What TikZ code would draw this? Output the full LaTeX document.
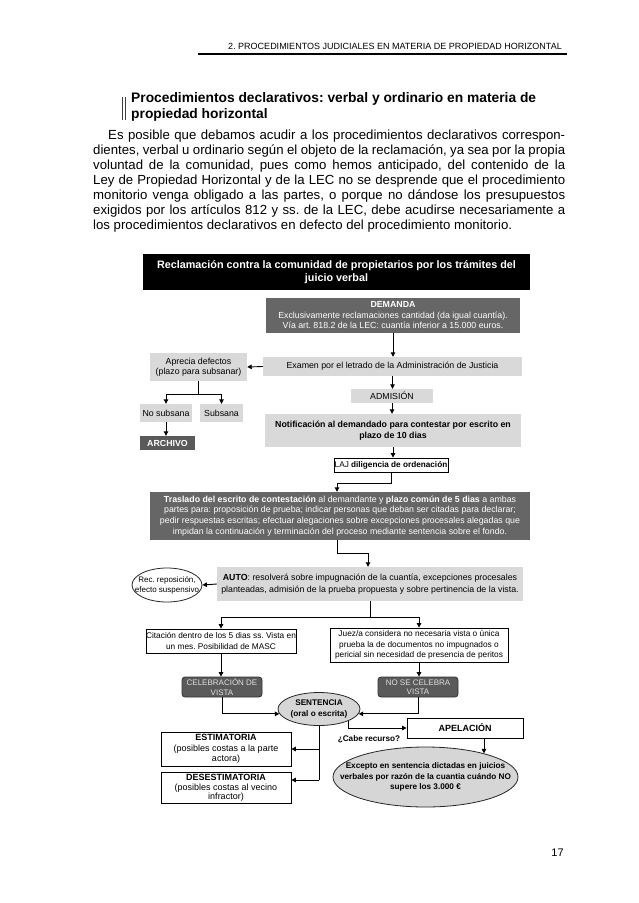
\documentclass[tikz,border=0pt]{standalone}
\usepackage{fontspec}
\setmainfont{Liberation Sans}
\usetikzlibrary{arrows.meta,shapes.geometric}
\definecolor{dgray}{HTML}{666666}
\definecolor{dgrayb}{HTML}{5A5A5A}
\definecolor{lgray}{HTML}{D9D9D9}
\definecolor{egray}{HTML}{D6D6D6}
\frenchspacing
\begin{document}
\begin{tikzpicture}[x=1pt,y=-1pt,
  fc/.style={font=\fontsize{8.8}{10.5}\selectfont, align=center, inner sep=0pt},
  lbox/.style={fc, fill=lgray},
  dbox/.style={fc, fill=dgray, text=white},
  wbox/.style={fc, draw=black, line width=0.8pt, fill=white},
  rbox/.style={fc, font=\fontsize{8}{9.5}\selectfont, fill=dgrayb, draw=black!80, line width=0.8pt, rounded corners=3pt, text=white!88!black},
  ell/.style={ellipse, draw=black!85, line width=0.8pt, inner sep=0pt},
  arr/.style={line width=0.9pt, -{Triangle[length=4.5pt,width=4.5pt]}},
  ln/.style={line width=0.9pt},
  body/.style={anchor=base west, inner sep=0pt, font=\fontsize{13.2}{15}\selectfont},
]
\useasboundingbox (0,0) rectangle (639,903);
\fill[white] (0,0) rectangle (639,903);

% header
\node[anchor=base east, inner sep=0pt, font=\fontsize{9}{10}\selectfont] (hdr) at (562,49.5) {2. PROCEDIMIENTOS JUDICIALES EN MATERIA DE PROPIEDAD HORIZONTAL};
\draw[line width=1.8pt] (198,53.7) -- (567,53.7);

% title
\draw[line width=0.8pt, black!75] (122,97) -- (122,120);
\draw[line width=0.8pt, black!75] (125.5,97) -- (125.5,120);
\node[anchor=base west, inner sep=0pt, font=\fontsize{13.8}{16}\selectfont\bfseries] (t1) at (131,102.5) {Procedimientos declarativos: verbal y ordinario en materia de};
\node[anchor=base west, inner sep=0pt, font=\fontsize{13.8}{16}\selectfont\bfseries] (t2) at (131,118.5) {propiedad horizontal};

% paragraph
\node[body] (p1) at (108,139) {\makebox[457pt][s]{Es posible que debamos acudir a los procedimientos declarativos correspon-}};
\node[body] (p2) at (93,154) {\makebox[472pt][s]{dientes, verbal u ordinario según el objeto de la reclamación, ya sea por la propia}};
\node[body] (p3) at (93,169) {\makebox[472pt][s]{voluntad de la comunidad, pues como hemos anticipado, del contenido de la}};
\node[body] (p4) at (93,184) {\makebox[472pt][s]{Ley de Propiedad Horizontal y de la LEC no se desprende que el procedimiento}};
\node[body] (p5) at (93,199) {\makebox[472pt][s]{monitorio venga obligado a las partes, o porque no dándose los presupuestos}};
\node[body] (p6) at (93,214) {\makebox[472pt][s]{exigidos por los artículos 812 y ss. de la LEC, debe acudirse necesariamente a}};
\node[body] (p7) at (93,229) {los procedimientos declarativos en defecto del procedimiento monitorio.};

% flowchart
\node[fc, fill=black, text=white, font=\fontsize{10.8}{13}\selectfont\bfseries, minimum width=387pt, minimum height=36pt] (title) at (336.5,272) {Reclamación contra la comunidad de propietarios por los trámites del\\juicio verbal};

\node[dbox, minimum width=254pt, minimum height=35pt] (demanda) at (393,315.5) {\textbf{DEMANDA}\\Exclusivamente reclamaciones cantidad (da igual cuantía).\\Vía art. 818.2 de la LEC: cuantía inferior a 15.000 euros.};

\node[lbox, minimum width=259pt, minimum height=19pt] (examen) at (392.5,366.5) {Examen por el letrado de la Administración de Justicia};
\node[lbox, minimum width=97pt, minimum height=28pt] (aprecia) at (198.5,367) {Aprecia defectos\\(plazo para subsanar)};
\node[lbox, minimum width=52pt, minimum height=18pt] (nosub) at (166,413) {No subsana};
\node[lbox, minimum width=43pt, minimum height=18pt] (sub) at (221.5,413) {Subsana};
\node[fc, fill=dgrayb, text=white, font=\fontsize{8.8}{10.5}\selectfont\bfseries, minimum width=55pt, minimum height=14pt] (archivo) at (167.5,443) {ARCHIVO};
\node[lbox, minimum width=82pt, minimum height=14pt] (admision) at (392,396) {ADMISIÓN};
\node[lbox, font=\fontsize{8.8}{10.8}\selectfont\bfseries, minimum width=256pt, minimum height=33pt] (notif) at (393,430.5) {Notificación al demandado para contestar por escrito en\\plazo de 10 dias};
\node[wbox, font=\fontsize{8.2}{10}\selectfont, minimum width=114pt, minimum height=14pt] (laj) at (391,465) {LAJ \textbf{diligencia de ordenación}};
\node[dbox, font=\fontsize{8.8}{10.8}\selectfont, minimum width=380pt, minimum height=48pt] (traslado) at (340,516) {\textbf{Traslado del escrito de contestación} al demandante y \textbf{plazo común de 5 dias} a ambas\\partes para: proposición de prueba; indicar personas que deban ser citadas para declarar;\\pedir respuestas escritas; efectuar alegaciones sobre excepciones procesales alegadas que\\impidan la continuación y terminación del proceso mediante sentencia sobre el fondo.};
\node[lbox, font=\fontsize{8.8}{11.5}\selectfont, minimum width=306pt, minimum height=34pt] (auto) at (370,584) {\textbf{AUTO}: resolverá sobre impugnación de la cuantía, excepciones procesales\\planteadas, admisión de la prueba propuesta y sobre pertinencia de la vista.};
\node[ell, fill=white, minimum width=70pt, minimum height=34pt] (rec) at (167,585) {};
\node[fc, font=\fontsize{8}{10}\selectfont] (rectxt) at (rec.center) {Rec. reposición,\\efecto suspensivo};

\node[wbox, font=\fontsize{8.3}{10.3}\selectfont, minimum width=150pt, minimum height=24pt] (citacion) at (221,641) {Citación dentro de los 5 dias ss. Vista en\\un mes. Posibilidad de MASC};
\node[wbox, font=\fontsize{8.3}{10.3}\selectfont, minimum width=178pt, minimum height=34pt] (juez) at (419,645) {Juez/a considera no necesaria vista o única\\prueba la de documentos no impugnados o\\pericial sin necesidad de presencia de peritos};

\node[rbox, minimum width=80pt, minimum height=20pt] (celeb) at (222,687) {CELEBRACIÓN DE\\VISTA};
\node[rbox, minimum width=80pt, minimum height=20pt] (nocelb) at (418,687) {NO SE CELEBRA\\VISTA};

\node[ell, fill=egray, minimum width=82pt, minimum height=33pt] (sentencia) at (319,709) {};
\node[fc, font=\fontsize{8.2}{10.5}\selectfont\bfseries] (senttxt) at (sentencia.center) {SENTENCIA\\(oral o escrita)};

\node[wbox, font=\fontsize{9}{10.8}\selectfont\bfseries, minimum width=116pt, minimum height=20pt] (apelacion) at (465,728) {APELACIÓN};
\node[fc, font=\fontsize{8.2}{10}\selectfont\bfseries] (cabe) at (369,739.5) {¿Cabe recurso?};

\node[ell, fill=egray, minimum width=185pt, minimum height=60pt] (excepto) at (425.5,777) {};
\node[fc, font=\fontsize{8.2}{10.2}\selectfont\bfseries] (exctxt) at (excepto.center) {Excepto en sentencia dictadas en juicios\\verbales por razón de la cuantia cuándo NO\\supere los 3.000 €};

\node[wbox, font=\fontsize{9}{10.6}\selectfont, minimum width=130pt, minimum height=34pt] (estim) at (226,749) {\textbf{ESTIMATORIA}\\(posibles costas a la parte\\actora)};
\node[wbox, font=\fontsize{9}{9.6}\selectfont, minimum width=130pt, minimum height=31pt] (desest) at (226,788) {\textbf{DESESTIMATORIA}\\(posibles costas al vecino\\infractor)};

% connectors
\draw[arr] (demanda.south) -- (demanda.south |- examen.north);
\draw[arr] (examen.west) -- (aprecia.east);
\coordinate (apj) at (198.5,394);
\draw[ln] (aprecia.south) -- (apj);
\draw[arr] (apj) -| (nosub.north);
\draw[arr] (apj) -| (sub.north);
\draw[arr] (nosub.south) -- (nosub.south |- archivo.north);
\draw[arr] (examen.south) -- (examen.south |- admision.north);
\draw[arr] (admision.south) -- (admision.south |- notif.north);
\draw[arr] (notif.south) -- (notif.south |- laj.north);
\coordinate (tj) at (337,483);
\draw[arr] (laj.south) |- (tj) -- (tj |- traslado.north);
\coordinate (aj) at (368,553);
\draw[arr] (traslado.south -| tj) |- (aj) -- (aj |- auto.north);
\draw[arr] (auto.west) -- (rec.east);
\coordinate (bj) at (370,617);
\draw[ln] (auto.south) -- (bj);
\draw[arr] (bj) -| (citacion.north);
\draw[arr] (bj) -| (juez.north);
\draw[arr] (citacion.south) -- (citacion.south |- celeb.north);
\draw[arr] (juez.south) -- (juez.south |- nocelb.north);
\draw[arr] (celeb.south) |- (sentencia.187);
\draw[arr] (nocelb.south) |- (sentencia.-7);
\draw[arr] (sentencia.south east) |- (apelacion.west);
\draw[arr] (excepto.22 |- apelacion.south) -- (excepto.22);
\coordinate (dj) at (319,780);
\draw[ln] (sentencia.south) -- (dj);
\draw[arr] (sentencia.south |- estim.east) -- (estim.east);
\draw[arr] (dj) -- (dj -| desest.east);

% page number
\node[anchor=base, inner sep=0pt, font=\fontsize{11}{12}\selectfont] (pg) at (557.5,856) {17};
\end{tikzpicture}
\end{document}
